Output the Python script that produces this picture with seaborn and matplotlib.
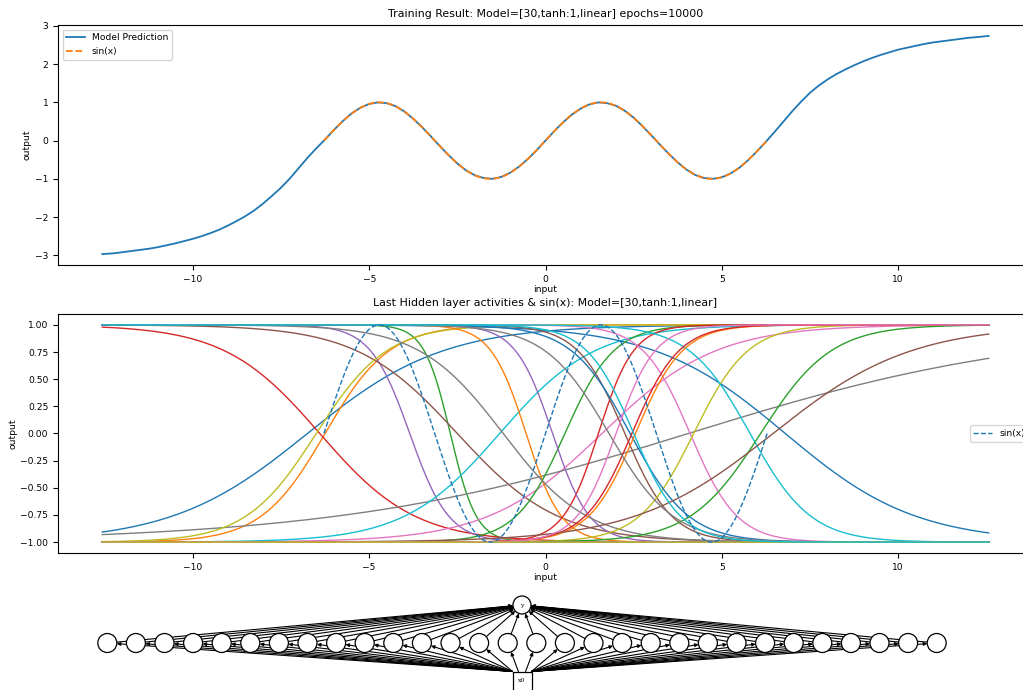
import numpy as np
import pandas as pd
import matplotlib
matplotlib.use('Agg')
import matplotlib.pyplot as plt
from matplotlib.patches import Circle, Rectangle
import seaborn as sns

model_x = [-12.57] + list(np.round(np.arange(-12.25, 12.26, 0.25), 2)) + [12.57]
model_y = [-2.97, -2.95, -2.92, -2.89, -2.86, -2.83, -2.79, -2.74, -2.69, -2.63,
           -2.57, -2.50, -2.42, -2.33, -2.22, -2.10, -1.97, -1.82, -1.64, -1.44,
           -1.23, -0.99, -0.72, -0.45, -0.20, 0.03,
           0.28, 0.51, 0.71, 0.86, 0.96, 1.00, 0.98, 0.90, 0.76, 0.57, 0.35, 0.11, -0.14,
           -0.38, -0.60, -0.78, -0.91, -0.98, -1.00, -0.95, -0.84, -0.68, -0.48, -0.25, 0.00,
           0.25, 0.48, 0.68, 0.84, 0.95, 1.00, 0.98, 0.91, 0.78, 0.60, 0.38, 0.14,
           -0.11, -0.35, -0.57, -0.76, -0.90, -0.98, -1.00, -0.96, -0.86, -0.71, -0.51, -0.28,
           -0.03, 0.23, 0.50, 0.77, 1.02, 1.25, 1.44, 1.60, 1.74, 1.86,
           1.97, 2.07, 2.16, 2.24, 2.31, 2.38, 2.43, 2.48, 2.53, 2.57,
           2.60, 2.63, 2.66, 2.69, 2.71, 2.74]

# 30 tanh hidden units, tanh(slope * (x - center))
hidden_center = [-6.75, -6.25, -2.7, -6.4, -3.85, -2.5, 1.6, 4.05, -6.5, -1.3,
                 6.8, -0.55, 0.55, 1.5, 0.2, 2.25, 4.1, -1.2, 4.2, 5.8,
                 2.4, 2.55, 6.1, 2.45, 16.0, 6.45, 2.0, 1.8, -16.0, 2.5]
hidden_slope = [0.26, 0.55, -1.35, -0.37, -0.9, -0.35, 0.31, 0.1, 0.5, 0.37,
                -0.27, -1.0, 0.72, 1.0, -0.95, -0.75, -0.75, -0.42, 0.65, -0.58,
                -0.6, 0.75, 0.5, 0.75, 1.0, 0.255, 0.9, -0.55, -1.0, -0.75]

model_name = 'Model=[30,tanh:1,linear]'
epochs = 10000
n_hidden = 30
input_names = ['x0']
output_names = ['y']

plt.rcParams['font.size'] = 6.6

x_full = np.linspace(-4 * np.pi, 4 * np.pi, 400)
x_train = np.linspace(-2 * np.pi, 2 * np.pi, 200)

fig = plt.figure(figsize=(10.23, 6.9), dpi=100)
W, H = 1023, 690

# top: training result
ax1 = fig.add_axes([58 / W, 1 - 265 / H, 975 / W, 240 / H])
sns.lineplot(x=model_x, y=model_y, label='Model Prediction', color='C0', lw=1.3, ax=ax1)
sns.lineplot(x=x_train, y=np.sin(x_train), label='sin(x)', color='C1', ls='--', lw=1.3, ax=ax1)
ax1.legend(loc='upper left')
ax1.set_xlabel('input', labelpad=1)
ax1.set_ylabel('output', labelpad=2)
ax1.set_title('Training Result: ' + model_name + ' epochs=' + str(epochs))

# middle: hidden layer activities
rows = []
for i in range(n_hidden):
    act = np.tanh(hidden_slope[i] * (x_full - hidden_center[i]))
    rows.append(pd.DataFrame({'input': x_full, 'output': act, 'neuron': 'h%d' % i}))
hid = pd.concat(rows, ignore_index=True)
colors = ['C%d' % (i % 10) for i in range(n_hidden)]

ax2 = fig.add_axes([58 / W, 1 - 553 / H, 975 / W, 239 / H])
sns.lineplot(data=hid, x='input', y='output', hue='neuron', palette=colors,
             legend=False, estimator=None, lw=1.0, ax=ax2)
sns.lineplot(x=x_train, y=np.sin(x_train), color='C0', ls='--', lw=1.0, label='sin(x)', ax=ax2)
ax2.legend(loc='center right')
ax2.set_xlabel('input', labelpad=1)
ax2.set_ylabel('output', labelpad=2)
ax2.set_title('Last Hidden layer activities & sin(x): ' + model_name)

# bottom: network diagram, drawn in pixel units
ax3 = fig.add_axes([0, 0, 1, 95 / H])
ax3.set_xlim(0, W)
ax3.set_ylim(H, 595)
ax3.axis('off')

cx = 522
spacing = 28.6
r_h = 9.5
r_out = 9.0
y_in, y_hid, y_out = 681, 643, 605
hx = cx + (np.arange(n_hidden) - (n_hidden - 1) / 2) * spacing

arrow = dict(arrowstyle='-|>', lw=0.8, color='black', mutation_scale=5, shrinkA=0, shrinkB=0)
for x in hx:
    # input -> hidden
    sx = cx + np.clip((x - cx) * 0.25, -9.5, 9.5)
    sy = y_in - 9.5
    d = np.array([x - sx, y_hid - sy])
    d = d / np.hypot(*d)
    ex, ey = x - d[0] * r_h, y_hid - d[1] * r_h
    ax3.annotate('', xy=(ex, ey), xytext=(sx, sy), arrowprops=arrow)
    # hidden -> output
    d = np.array([cx - x, y_out - y_hid])
    d = d / np.hypot(*d)
    sx, sy = x + d[0] * r_h, y_hid + d[1] * r_h
    ex, ey = cx - d[0] * r_out, y_out - d[1] * r_out
    ax3.annotate('', xy=(ex, ey), xytext=(sx, sy), arrowprops=arrow)

for x in hx:
    ax3.add_patch(Circle((x, y_hid), r_h, facecolor='white', edgecolor='black', lw=0.9, zorder=3))
ax3.add_patch(Circle((cx, y_out), r_out, facecolor='white', edgecolor='black', lw=0.9, zorder=3))
ax3.add_patch(Rectangle((cx - 9.5, y_in - 9.5), 19, 19, facecolor='white', edgecolor='black', lw=0.9, zorder=3))
ax3.text(cx, y_out, output_names[0], ha='center', va='center', fontsize=4.5, family='DejaVu Serif', zorder=4)
ax3.text(cx, y_in, input_names[0], ha='center', va='center', fontsize=4.5, family='DejaVu Serif', zorder=4)

plt.savefig('out.png', dpi=100)
